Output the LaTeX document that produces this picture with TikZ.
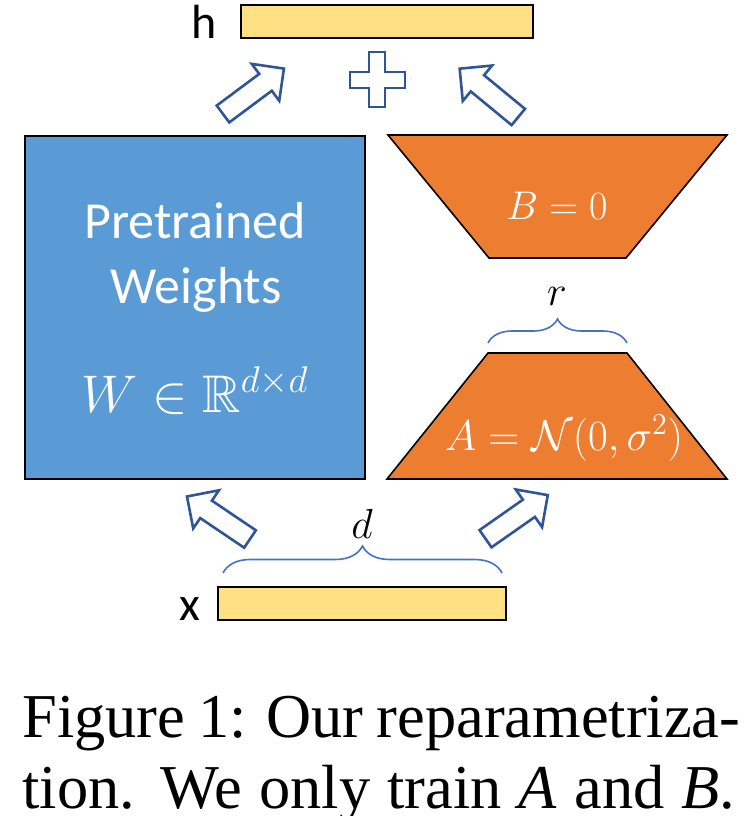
\RequirePackage{fix-cm}
\documentclass[tikz,border=0pt]{standalone}
\usepackage{amsmath,amssymb}
\usepackage{fontspec}
\setmainfont{Liberation Serif}
\newfontfamily\calibri{Carlito}
\usetikzlibrary{decorations.pathreplacing}
\definecolor{wblue}{HTML}{5B9BD5}
\definecolor{lorange}{HTML}{ED7D31}
\definecolor{lyellow}{HTML}{FFE083}
\definecolor{arrowblue}{HTML}{2F5597}
\definecolor{braceblue}{HTML}{4472C4}
\tikzset{
  bar/.style={draw=black, line width=1pt, fill=lyellow, minimum width=#1, minimum height=16.5pt, inner sep=0pt},
  blockarrow/.style={draw=arrowblue, line width=1.3pt, fill=white, line join=miter},
  lbl/.style={font=\calibri\fontsize{24}{28}\selectfont, inner sep=0pt, anchor=base},
  wtxt/.style={text=white, inner sep=0pt, anchor=base},
  trap/.style={draw=black, line width=0.8pt, fill=lorange, line join=miter},
  bracestyle/.style={draw=braceblue, line width=0.8pt, decorate, decoration={brace, amplitude=#1}},
  captxt/.style={anchor=base west, inner sep=0pt, font=\fontsize{31.2}{36}\selectfont},
  barrow/.pic={\draw[blockarrow] (0,-10.5) -- (53,-10.5) -- (53,-23) -- (76,0) -- (53,23) -- (53,10.5) -- (0,10.5) -- cycle;}
}
\begin{document}
\begin{tikzpicture}[x=0.5pt,y=-0.5pt]
\useasboundingbox (0,0) rectangle (752,816);
% bars
\node[bar=146pt] (hbar) at (387,21.5) {};
\node[lbl] (hlbl) at (204,38) {h};
\node[bar=144pt] (xbar) at (362,603.5) {};
\node[lbl] (xlbl) at (190,620) {x};
% pretrained weights box
\node[draw=black, line width=1pt, fill=wblue, minimum width=170pt, minimum height=171.5pt, inner sep=0pt] (W) at (195,307.5) {};
\node[wtxt, font=\calibri\fontsize{26}{30}\selectfont] (pt) at (195,238) {Pretrained};
\node[wtxt, font=\calibri\fontsize{26}{30}\selectfont] (wt) at (196,303) {Weights};
\node[wtxt, font=\fontsize{26.5}{30}\selectfont] (wm) at (195,412) {$W \in \mathbb{R}^{d\times d}$};
% trapezoids
\draw[trap] (388,135) -- (727,135) -- (626,258) -- (489,258) -- cycle;
\node[wtxt, font=\fontsize{20}{24}\selectfont] (Btxt) at (557,219) {$B = 0$};
\draw[trap] (488,353) -- (627,353) -- (727,479) -- (387,479) -- cycle;
\node[wtxt, font=\fontsize{21.5}{24}\selectfont] (Atxt) at (564,450) {$A = \mathcal{N}(0,\sigma^2)$};
% braces
\coordinate (rb1) at (488,343);
\coordinate (rb2) at (627,343);
\draw[bracestyle=12pt] (rb1) -- (rb2);
\node[inner sep=0pt, anchor=base, font=\fontsize{21}{24}\selectfont] (rlbl) at (557,305) {$r$};
\coordinate (db1) at (223,573);
\coordinate (db2) at (502,573);
\draw[bracestyle=13.5pt] (db1) -- (db2);
\node[inner sep=0pt, anchor=base, font=\fontsize{21}{24}\selectfont] (dlbl) at (362,538) {$d$};
% block arrows
\pic[rotate=36.7] at (223,114) {barrow};
\pic[rotate=140.5] at (518.3,117) {barrow};
\pic[rotate=146] at (250,539) {barrow};
\pic[rotate=35] at (485.5,538.7) {barrow};
% plus
\draw[blockarrow] (369,52) -- (385,52) -- (385,72) -- (405,72) -- (405,88) -- (385,88) -- (385,107) -- (369,107) -- (369,88) -- (350,88) -- (350,72) -- (369,72) -- cycle;
% caption
\node[captxt] (cap1) at (22,737) {\makebox[359pt][s]{Figure 1: Our reparametriza-}};
\node[captxt] (cap2) at (22,808) {\makebox[356.5pt][s]{tion. We only train \textit{A} and \textit{B}.}};
\end{tikzpicture}
\end{document}
